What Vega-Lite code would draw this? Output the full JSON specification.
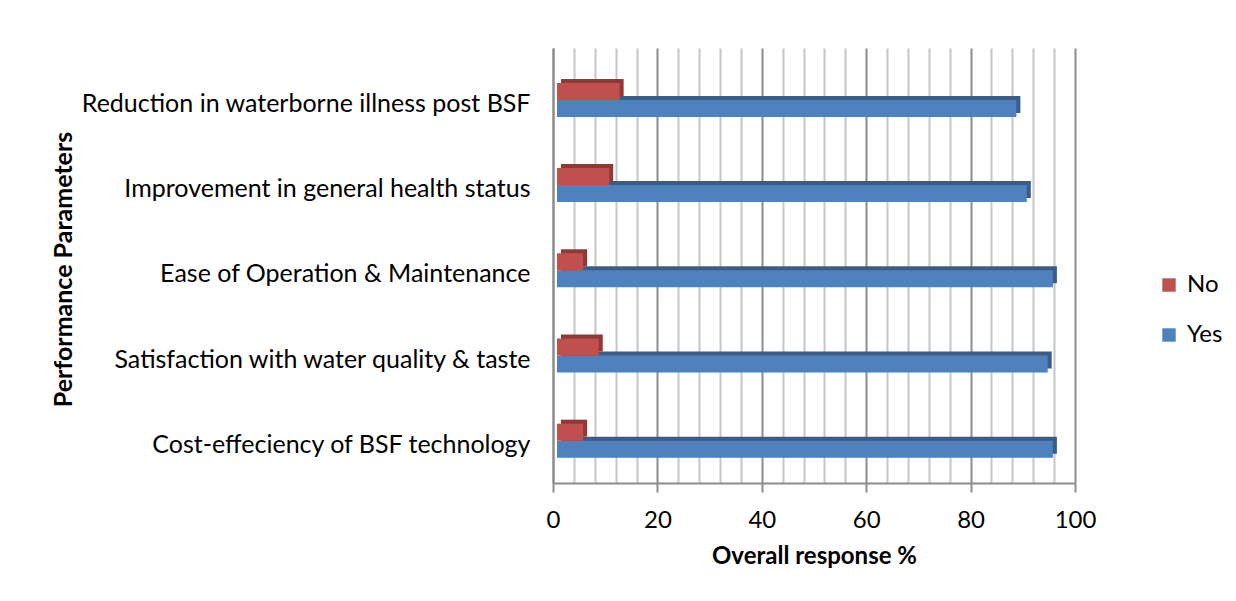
{
  "$schema": "https://vega.github.io/schema/vega-lite/v6.json",
  "width": 522,
  "height": 435,
  "autosize": {"type": "none"},
  "padding": {"left": 553, "top": 48, "right": 161, "bottom": 118},
  "background": "white",
  "config": {
    "view": {"stroke": null},
    "font": "Lato",
    "axis": {"labelFont": "Lato", "titleFont": "Lato", "labelColor": "#000", "titleColor": "#000"}
  },
  "data": {
    "values": [
      {"Parameter": "Reduction in waterborne illness post BSF", "Response": "Yes", "Value": 88},
      {"Parameter": "Reduction in waterborne illness post BSF", "Response": "No", "Value": 12},
      {"Parameter": "Improvement in general health status", "Response": "Yes", "Value": 90},
      {"Parameter": "Improvement in general health status", "Response": "No", "Value": 10},
      {"Parameter": "Ease  of  Operation & Maintenance", "Response": "Yes", "Value": 95},
      {"Parameter": "Ease  of  Operation & Maintenance", "Response": "No", "Value": 5},
      {"Parameter": "Satisfaction  with water quality & taste", "Response": "Yes", "Value": 94},
      {"Parameter": "Satisfaction  with water quality & taste", "Response": "No", "Value": 8},
      {"Parameter": "Cost-effeciency  of BSF technology", "Response": "Yes", "Value": 95},
      {"Parameter": "Cost-effeciency  of BSF technology", "Response": "No", "Value": 5}
    ]
  },
  "encoding": {
    "y": {
      "field": "Parameter",
      "type": "nominal",
      "sort": ["Reduction in waterborne illness post BSF", "Improvement in general health status", "Ease  of  Operation & Maintenance", "Satisfaction  with water quality & taste", "Cost-effeciency  of BSF technology"],
      "scale": {"paddingInner": 0.6, "paddingOuter": 0.353, "align": 0.58},
      "axis": {
        "title": "Performance Parameters",
        "titleFontSize": 25,
        "titleFontWeight": "bold",
        "titleX": -490,
        "titleY": 221,
        "titleAngle": -90,
        "titleAlign": "center",
        "titleBaseline": "middle",
        "labelFontSize": 25,
        "labelPadding": 23,
        "labelOffset": 4,
        "labelLimit": 600,
        "ticks": false,
        "domainColor": "#8c8c8c",
        "domainWidth": 2
      }
    },
    "x": {
      "field": "Value",
      "type": "quantitative",
      "scale": {"domain": [0, 100], "nice": false},
      "axis": {
        "title": "Overall response %",
        "titleFontSize": 24,
        "titleFontWeight": "bold",
        "titleY": 80,
        "titleBaseline": "alphabetic",
        "values": [0, 4, 8, 12, 16, 20, 24, 28, 32, 36, 40, 44, 48, 52, 56, 60, 64, 68, 72, 76, 80, 84, 88, 92, 96, 100],
        "labelExpr": "datum.value % 20 === 0 ? datum.label : ''",
        "labelFontSize": 24,
        "labelPadding": 16,
        "labelFlush": false,
        "labelOverlap": false,
        "tickSize": 9,
        "tickWidth": 2,
        "tickColor": {"condition": {"test": "datum.value % 20 === 0", "value": "#8c8c8c"}, "value": "transparent"},
        "grid": true,
        "gridWidth": 2,
        "gridColor": {"condition": {"test": "datum.value % 20 === 0", "value": "#8c8c8c"}, "value": "#c6c6c6"},
        "domainColor": "#8c8c8c",
        "domainWidth": 2
      }
    }
  },
  "layer": [
    {
      "mark": {"type": "bar", "xOffset": 8},
      "encoding": {
        "yOffset": {"field": "Response", "type": "nominal", "scale": {"domain": ["No", "Yes"], "range": [-4, 30], "paddingInner": 0, "paddingOuter": 0}},
        "color": {"field": "Response", "type": "nominal", "scale": {"domain": ["No", "Yes"], "range": ["#943634", "#385D8A"]}, "legend": null}
      }
    },
    {
      "mark": {"type": "bar", "xOffset": 4},
      "encoding": {
        "yOffset": {"field": "Response", "type": "nominal", "scale": {"domain": ["No", "Yes"], "range": [0, 34], "paddingInner": 0, "paddingOuter": 0}},
        "color": {
          "field": "Response",
          "type": "nominal",
          "scale": {"domain": ["No", "Yes"], "range": ["#C0504D", "#4F81BD"]},
          "legend": {
            "title": null,
            "orient": "none",
            "legendX": 604,
            "legendY": 225,
            "symbolType": "square",
            "symbolSize": 180,
            "symbolStrokeWidth": 0,
            "labelFontSize": 24,
            "labelFont": "Lato",
            "labelColor": "#000",
            "labelOffset": 6,
            "rowPadding": 26
          }
        }
      }
    }
  ],
  "resolve": {"scale": {"color": "independent", "yOffset": "independent"}}
}
